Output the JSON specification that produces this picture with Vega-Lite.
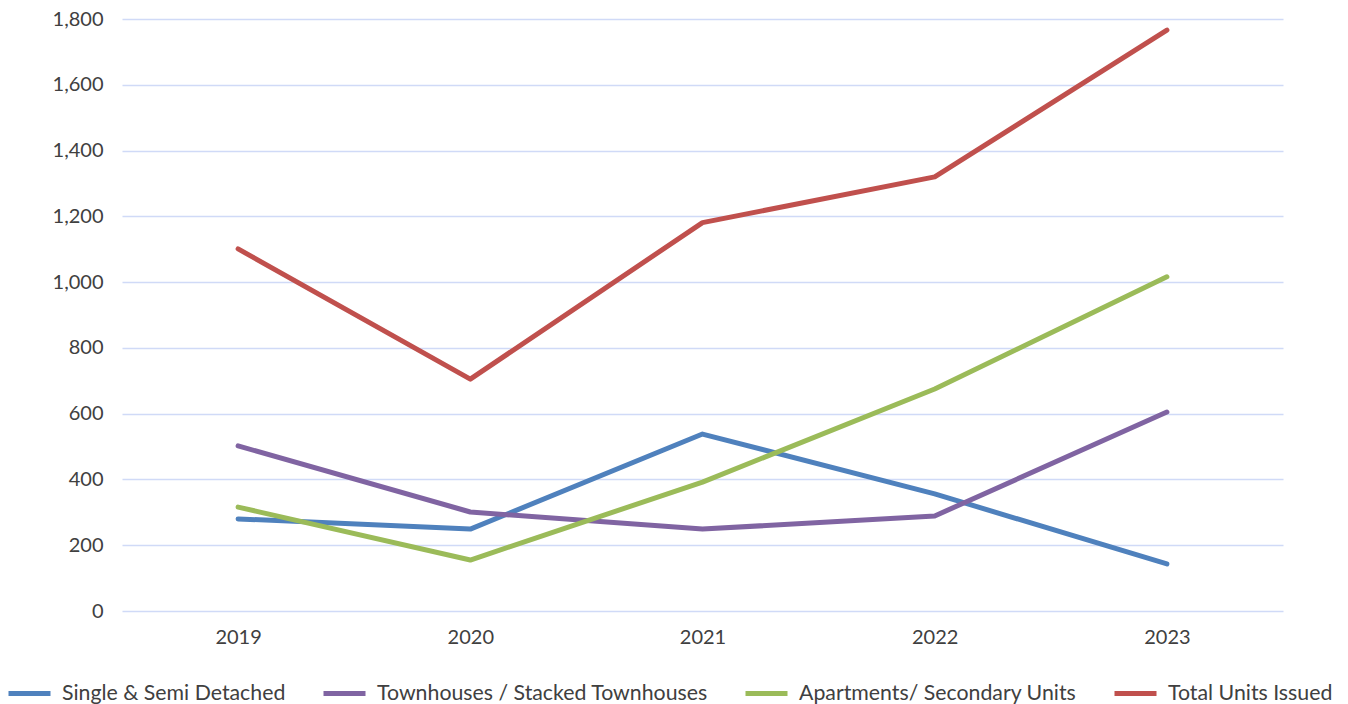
{
  "$schema": "https://vega.github.io/schema/vega-lite/v6.json",
  "width": 1161,
  "height": 592,
  "autosize": {"type": "none"},
  "padding": {"left": 122, "top": 19, "right": 65, "bottom": 93},
  "background": "white",
  "data": {
    "values": [
      {"year": "2019", "series": "Single & Semi Detached", "units": 280},
      {"year": "2020", "series": "Single & Semi Detached", "units": 249},
      {"year": "2021", "series": "Single & Semi Detached", "units": 538},
      {"year": "2022", "series": "Single & Semi Detached", "units": 356},
      {"year": "2023", "series": "Single & Semi Detached", "units": 143},
      {"year": "2019", "series": "Townhouses / Stacked Townhouses", "units": 502},
      {"year": "2020", "series": "Townhouses / Stacked Townhouses", "units": 301},
      {"year": "2021", "series": "Townhouses / Stacked Townhouses", "units": 249},
      {"year": "2022", "series": "Townhouses / Stacked Townhouses", "units": 289},
      {"year": "2023", "series": "Townhouses / Stacked Townhouses", "units": 605},
      {"year": "2019", "series": "Apartments/ Secondary Units", "units": 316},
      {"year": "2020", "series": "Apartments/ Secondary Units", "units": 155},
      {"year": "2021", "series": "Apartments/ Secondary Units", "units": 392},
      {"year": "2022", "series": "Apartments/ Secondary Units", "units": 675},
      {"year": "2023", "series": "Apartments/ Secondary Units", "units": 1016},
      {"year": "2019", "series": "Total Units Issued", "units": 1101},
      {"year": "2020", "series": "Total Units Issued", "units": 705},
      {"year": "2021", "series": "Total Units Issued", "units": 1181},
      {"year": "2022", "series": "Total Units Issued", "units": 1320},
      {"year": "2023", "series": "Total Units Issued", "units": 1766}
    ]
  },
  "config": {
    "font": "Lato",
    "view": {"stroke": null}
  },
  "mark": {"type": "line", "strokeWidth": 5, "strokeCap": "round", "strokeJoin": "round"},
  "encoding": {
    "x": {
      "field": "year",
      "type": "ordinal",
      "scale": {"type": "point", "padding": 0.5},
      "axis": {
        "title": null,
        "labelAngle": 0,
        "labelFontSize": 20,
        "labelColor": "#404040",
        "labelPadding": 16,
        "ticks": false,
        "domain": false,
        "grid": false
      }
    },
    "y": {
      "field": "units",
      "type": "quantitative",
      "scale": {"domain": [0, 1800], "nice": false},
      "axis": {
        "title": null,
        "values": [0, 200, 400, 600, 800, 1000, 1200, 1400, 1600, 1800],
        "format": ",d",
        "labelFontSize": 20,
        "labelColor": "#404040",
        "labelPadding": 19,
        "ticks": false,
        "domain": false,
        "grid": true,
        "gridColor": "#D0DAF7",
        "gridWidth": 1.5
      }
    },
    "color": {
      "field": "series",
      "type": "nominal",
      "sort": ["Single & Semi Detached", "Townhouses / Stacked Townhouses", "Apartments/ Secondary Units", "Total Units Issued"],
      "scale": {
        "domain": ["Single & Semi Detached", "Townhouses / Stacked Townhouses", "Apartments/ Secondary Units", "Total Units Issued"],
        "range": ["#4F81BD", "#8064A2", "#9BBB59", "#C0504D"]
      },
      "legend": {
        "title": null,
        "orient": "none",
        "direction": "horizontal",
        "legendX": -116,
        "legendY": 651,
        "symbolType": "stroke",
        "symbolSize": 1764,
        "symbolStrokeWidth": 5,
        "labelFontSize": 21.3,
        "labelColor": "#404040",
        "labelOffset": 9,
        "labelBaseline": "middle",
        "columnPadding": 27,
        "labelLimit": 400
      }
    }
  }
}
